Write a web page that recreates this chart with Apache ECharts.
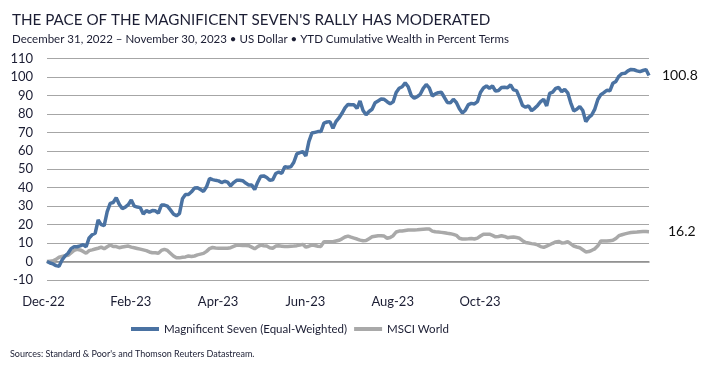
<!DOCTYPE html>
<html>
<head>
<meta charset="utf-8">
<script src="https://cdn.jsdelivr.net/npm/echarts@6/dist/echarts.min.js"></script>
<style>
html,body{margin:0;padding:0;background:#fff;}
#chart{width:727px;height:365px;}
</style>
</head>
<body>
<div id="chart"></div>
<script>
// Tick labels for the x axis (one every 29 observations)
var tickLabels = ['Dec-22', 'Feb-23', 'Apr-23', 'Jun-23', 'Aug-23', 'Oct-23'];
var tickStep = 29;

// Magnificent Seven (Equal-Weighted), YTD cumulative wealth (%)
var mag7 = [
 0,-0.8,-1.3,-2.2,-2.5,0.8,3,4.5,7,8,
 8,8.5,9.2,8,12.8,14.5,15.3,22.5,20,19.5,
 27,31.5,32,34.6,31,28.7,29.5,30.8,33.3,30,
 29.5,29.2,25.7,27.6,26.8,27.6,27.5,26.2,30.6,30.6,
 30,28,25.8,24.8,26,34,36.3,36.3,37.8,39.8,
 40,39,38,40.5,45,44.4,44,43.7,42.8,43.5,
 43,41,42.8,44,44,43.8,42.5,41.5,41.5,39,
 43,46.2,46.4,45.5,44,44.3,47.7,48.5,47.8,51.3,
 51.1,51.3,53.8,58.3,59,59.6,57.2,65,69.6,70,
 70.4,70.4,75,75.6,75.8,72.2,75.8,77.8,80.3,83.2,
 85.1,84.9,84.9,83,87,81.8,79.5,81.3,82.5,86,
 87,88,87.9,86.6,85.5,86.5,91.6,93.9,94.7,96.8,
 94.7,90,88.5,89.3,90.6,93.8,95.9,94.1,89.7,90.8,
 91.5,91.7,89,86.2,86,87.9,86.2,82.8,80.5,82,
 85,85.7,85.4,86.6,91.6,94,95.1,93.9,95.1,92.4,
 92.7,94.3,94.4,94.2,95.7,93,92.6,88.8,84.5,83.6,
 84.3,81.7,83,84.6,86.6,87.9,84.3,91.1,91.8,93.8,
 94.3,92,93.3,91.4,86,81.6,82.5,84,81.8,75.8,
 78.1,79.5,82.6,87.8,90.4,91.5,92.8,92.5,96.6,97.6,
 100.4,101.8,102,103.3,104.1,103.9,103.3,102.9,103.5,104,
 100.8
];

// MSCI World, YTD cumulative wealth (%)
var msci = [
 0,0.2,0.4,1.2,2.3,2.7,3.1,3.4,4.7,6,
 6.6,6.3,5.5,4.5,5.9,6.3,6.8,7.2,7.8,6.9,
 8,9,8.1,8.1,7.5,7.9,8.2,8.4,7.8,7.5,
 7.1,6.7,6.3,5.9,5.2,4.8,4.8,4.5,6,6.6,
 6,4.5,3,2,2,2.3,2.5,3,2.7,3,
 3.6,4,4.4,5.5,7,7.6,7.3,7.2,7.2,7.2,
 7.2,7.5,8.2,8.9,8.8,8.7,8.7,8.6,7.8,6.9,
 8.1,8.9,8.6,8.4,7.5,7.2,8.4,8.5,8.3,8.1,
 8.1,8.3,8.4,8.6,9,9.3,7.8,8.3,8.9,8.7,
 8.3,8.2,10.7,10.7,10.7,10.7,11.1,11.5,12.3,13.3,
 13.8,13.2,12.7,12.2,11.6,11.3,11.4,12.4,13.4,13.7,
 14,14,13.8,12.6,13,14,16,16.5,16.5,16.8,
 17.1,17.1,17.1,17.2,17.4,17.5,17.6,17.6,16.5,16.1,
 16,15.8,15.6,15.3,15.1,14.7,14.2,12.6,12.2,12.2,
 12.3,12.5,12.2,12.7,13.8,14.8,14.8,14.8,14.2,13.4,
 13.6,14,13.6,12.9,13.1,13.3,13,12.6,11.3,10.3,
 10,9.7,9.5,9,8.1,7.7,8.4,9.1,9.9,10.6,
 10.9,10.1,10.2,10.7,9.6,8.4,7.9,7.5,6.4,5.2,
 5.4,6.1,6.9,8.5,11.1,11.1,11.1,11.3,11.5,12.5,
 14,14.5,15,15.4,15.7,15.9,16,16.2,16.3,16.3,
 16.2
];

var seriesNames = ['Magnificent Seven (Equal-Weighted)', 'MSCI World'];

var FONT = 'Lato';
var TXT = '#1b1d33';
var chart = echarts.init(document.getElementById('chart'));

function toPairs(arr){ return arr.map(function(v,i){ return [i, v]; }); }

chart.setOption({
  animation: false,
  backgroundColor: '#ffffff',
  title: [
    { text: "THE PACE OF THE MAGNIFICENT SEVEN'S RALLY HAS MODERATED", left: 7, top: 8,
      textStyle: { fontFamily: FONT, fontSize: 15.2, fontWeight: 'normal', color: TXT } },
    { text: 'December 31, 2022 \u2013 November 30, 2023 \u2022 US Dollar \u2022 YTD Cumulative Wealth in Percent Terms', left: 7, top: 28,
      textStyle: { fontFamily: FONT, fontSize: 11.5, fontWeight: 'normal', color: TXT } },
    { text: "Sources: Standard & Poor's and Thomson Reuters Datastream.", left: 5, top: 345,
      textStyle: { fontFamily: FONT, fontSize: 9, fontWeight: 'normal', color: TXT } }
  ],
  legend: {
    left: 126, top: 318,
    icon: 'rect', itemWidth: 28, itemHeight: 4, itemGap: 7,
    textStyle: { fontFamily: FONT, fontSize: 11.5, color: TXT },
    data: seriesNames
  },
  grid: { left: 47, right: 78, top: 58.5, bottom: 85, containLabel: false },
  xAxis: {
    type: 'value', min: 0, max: mag7.length - 1, interval: tickStep,
    axisLine: { show: true, lineStyle: { color: '#8c8c8c', width: 1.5 } },
    axisTick: { show: false },
    splitLine: { show: false },
    axisLabel: {
      fontFamily: FONT, fontSize: 13, color: TXT, margin: 15, padding: [0, 7, 0, 0],
      formatter: function(v){ var k = v / tickStep; return (Number.isInteger(k) && tickLabels[k]) ? tickLabels[k] : ''; }
    }
  },
  yAxis: {
    type: 'value', min: -10, max: 110, interval: 10,
    axisLine: { show: false }, axisTick: { show: false },
    splitLine: { show: true, lineStyle: { color: '#a6a6a6', width: 1 } },
    axisLabel: { fontFamily: FONT, fontSize: 13, color: TXT, margin: 14 }
  },
  series: [
    { name: seriesNames[0], type: 'line', data: toPairs(mag7), showSymbol: false, z: 4,
      color: '#4a72a2', lineStyle: { width: 3.5, color: '#4a72a2' },
      endLabel: { show: true, distance: 13, fontFamily: FONT, fontSize: 14, color: '#111',
        formatter: function(p){ return p.value[1].toFixed(1); } } },
    { name: seriesNames[1], type: 'line', data: toPairs(msci), showSymbol: false, z: 3,
      color: '#a9a9a9', lineStyle: { width: 3.5, color: '#a9a9a9' },
      endLabel: { show: true, distance: 19, fontFamily: FONT, fontSize: 14, color: '#111',
        formatter: function(p){ return p.value[1].toFixed(1); } } }
  ]
});
</script>
</body>
</html>
